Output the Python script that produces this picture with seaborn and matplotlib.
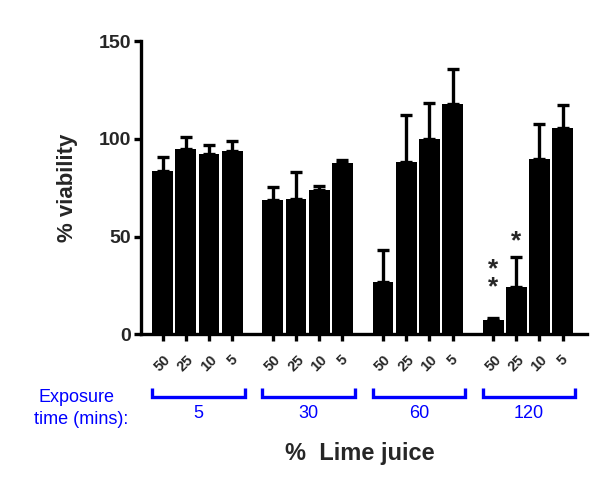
import matplotlib
matplotlib.use("Agg")
import matplotlib.pyplot as plt
import seaborn as sns
import pandas as pd
import numpy as np

# ---- data ----
exposure_times = ["5", "30", "60", "120"]          # minutes
lime_conc = ["50", "25", "10", "5"]               # % lime juice
viab_5 = [83.6, 94.7, 92.2, 93.7]
viab_30 = [68.7, 69.2, 73.6, 87.4]
viab_60 = [26.9, 87.9, 99.7, 117.6]
viab_120 = [7.3, 24.0, 89.6, 105.6]
sd_5 = [7.2, 6.3, 4.6, 5.0]
sd_30 = [6.6, 13.9, 2.4, 1.6]
sd_60 = [16.2, 24.2, 18.7, 17.9]
sd_120 = [1.2, 15.5, 17.8, 11.8]
# significance markers: (group index, bar index, marker text)
stars = [(3, 0, "*\n*"), (3, 1, "*")]

viab = [viab_5, viab_30, viab_60, viab_120]
sds = [sd_5, sd_30, sd_60, sd_120]
GROUP_STEP = 4.75
rows = []
for g, t in enumerate(exposure_times):
    for i, c in enumerate(lime_conc):
        rows.append({"pos": g * GROUP_STEP + i, "time": t, "conc": c,
                     "viab": viab[g][i], "sd": sds[g][i]})
df = pd.DataFrame(rows)

sns.set_style("ticks")
plt.rcParams["font.family"] = ["Liberation Sans", "DejaVu Sans"]

fig = plt.figure(figsize=(6, 4.9), dpi=100)
ax = fig.add_axes([0.235, 0.3178, 0.7433, 0.5985])

sns.barplot(data=df, x="pos", y="viab", native_scale=True, width=0.9,
            color="black", saturation=1, errorbar=None, ax=ax, edgecolor="none")

lw = 2.4
ax.errorbar(df["pos"], df["viab"], yerr=[np.zeros(len(df)), df["sd"]],
            fmt="none", ecolor="black", elinewidth=lw, capsize=4.5,
            capthick=lw, clip_on=False, zorder=3)

ax.set_xlim(-0.935, 18.3)
ax.set_ylim(0, 150)
ax.set_yticks([0, 50, 100, 150])
ax.set_yticklabels(["0", "50", "100", "150"], fontsize=14, fontweight="bold")
ax.set_xticks(df["pos"])
ax.set_xticklabels(df["conc"], rotation=45, ha="center", va="top",
                   fontsize=10.5, fontweight="bold")
ax.tick_params(axis="y", length=5, width=lw, pad=2, color="black")
ax.tick_params(axis="x", length=5, width=lw, pad=8, color="black")
ax.set_xlabel("")
ax.set_ylabel("")
for s in ["top", "right"]:
    ax.spines[s].set_visible(False)
for s in ["left", "bottom"]:
    ax.spines[s].set_linewidth(lw)
    ax.spines[s].set_color("black")

# y label
fig.text(68 / 600, 1 - 188 / 490, "% viability", rotation=90, ha="center",
         va="center", fontsize=16, fontweight="bold")
# x label
fig.text(360 / 600, 1 - 453 / 490, "%  Lime juice", ha="center", va="center",
         fontsize=17, fontweight="bold")

# significance stars (baseline of last line placed below glyph centre)
star_low = {0: 28.2, 1: 52.0}
for g, i, label in stars:
    x = g * GROUP_STEP + i
    ax.text(x, star_low[i] - 8.0, label, ha="center", va="baseline",
            fontsize=19, fontweight="bold", linespacing=0.7, clip_on=False)

# exposure time brackets
blue = "#0000ff"
y_top, y_bot = -27.3, -32.2
for g, t in enumerate(exposure_times):
    x0 = g * GROUP_STEP - 0.45
    x1 = g * GROUP_STEP + 3 + 0.55
    ax.plot([x0, x0, x1, x1], [y_top, y_bot, y_bot, y_top], color=blue,
            lw=lw, clip_on=False, solid_capstyle="butt", solid_joinstyle="miter")
    ax.text(g * GROUP_STEP + 1.55, -40.3, t, ha="center", va="center",
            color=blue, fontsize=13, clip_on=False)

fig.text(76 / 600, 1 - 397 / 490, "Exposure", ha="center", va="center",
         color=blue, fontsize=13)
fig.text(81 / 600, 1 - 420 / 490, "time (mins):", ha="center", va="center",
         color=blue, fontsize=13)

fig.savefig("out.png", dpi=100)
